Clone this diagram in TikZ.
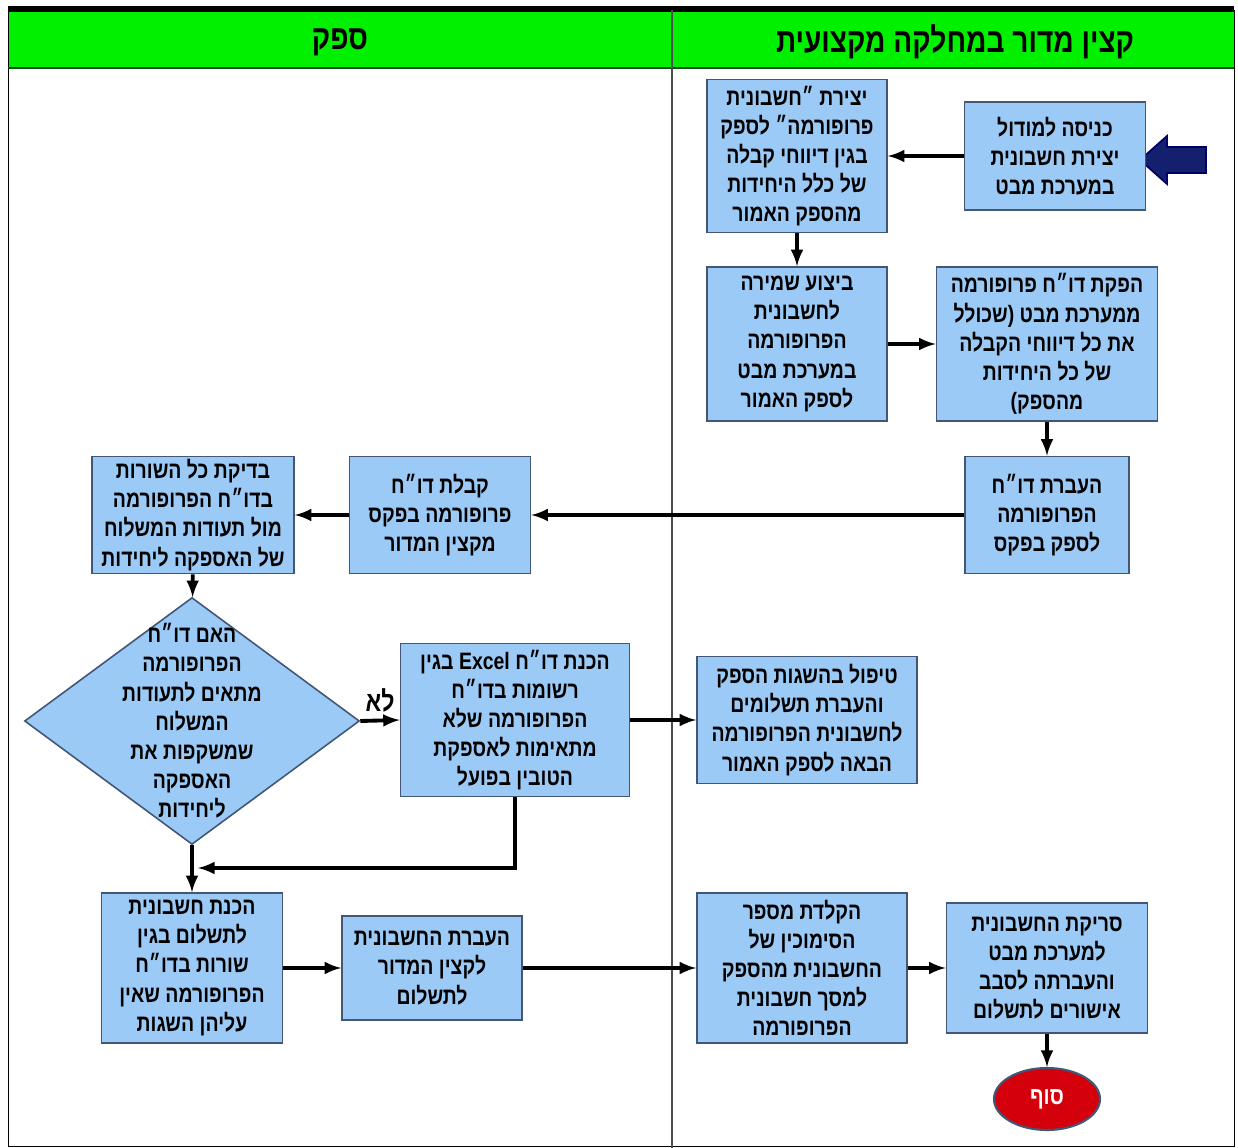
\documentclass[tikz,border=0pt]{standalone}
\usepackage{fontspec}
\usetikzlibrary{shapes.geometric}
\tikzset{>=latex}
\TeXXeTstate=1
\newfontfamily\hebfont[Script=Hebrew,FakeStretch=0.82]{Liberation Sans}
\newcommand{\heb}[1]{\beginR #1\endR}
\definecolor{boxblue}{RGB}{155,202,246}
\definecolor{boxline}{RGB}{66,86,118}
\definecolor{headgreen}{RGB}{0,240,0}
\definecolor{navyarrow}{RGB}{20,32,110}
\definecolor{endred}{RGB}{212,0,12}
\tikzstyle{box}=[draw=boxline,fill=boxblue,line width=0.9pt,align=center,inner sep=1pt,
  font={\hebfont\bfseries\fontsize{13.5}{16.6}\selectfont}]
\tikzstyle{flow}=[->,line width=2.2pt]
\tikzstyle{headtxt}=[font={\hebfont\bfseries\fontsize{19.5}{24}\selectfont}]

\begin{document}
\begin{tikzpicture}[x=0.02cm,y=-0.02cm]

  \useasboundingbox (0,0) rectangle (1238,1148);

  % lanes + header
  \fill[headgreen] (8,10) rectangle (1234,68);
  \draw[thin] (8,10) rectangle (1234,1146);
  \draw[line width=3pt] (8,9) -- (1234,9);
  \draw[line width=1pt,green!30!black] (8,68) -- (1234,68);
  \draw[line width=1.1pt,black!70] (672,10) -- (672,1148);
  \node[headtxt] (supplier) at (340,42) {\heb{ספק}};
  \node[headtxt] (officer) at (955,42) {\heb{קצין מדור במחלקה מקצועית}};

  % start arrow
  \draw[fill=navyarrow,draw=blue!40!black,line width=1pt]
    (1140,160) -- (1167,136) -- (1167,147) -- (1206,147) -- (1206,173)
    -- (1167,173) -- (1167,184) -- cycle;

  % boxes, officer lane
  \node[box,minimum width=3.62cm,minimum height=2.16cm] (entry) at (1055,156)
    {\heb{כניסה למודול}\\\heb{יצירת חשבונית}\\\heb{במערכת מבט}};
  \node[box,minimum width=3.6cm,minimum height=3.06cm] (proforma) at (797,156)
    {\heb{יצירת ״חשבונית}\\\heb{פרופורמה״ לספק}\\\heb{בגין דיווחי קבלה}\\\heb{של כלל היחידות}\\\heb{מהספק האמור}};
  \node[box,minimum width=3.6cm,minimum height=3.08cm] (save) at (797,344)
    {\heb{ביצוע שמירה}\\\heb{לחשבונית}\\\heb{הפרופורמה}\\\heb{במערכת מבט}\\\heb{לספק האמור}};
  \node[box,minimum width=4.42cm,minimum height=3.08cm] (report) at (1047,344)
    {\heb{הפקת דו״ח פרופורמה}\\\heb{ממערכת מבט (שכולל}\\\heb{את כל דיווחי הקבלה}\\\heb{של כל היחידות}\\\heb{מהספק)}};
  \node[box,minimum width=3.28cm,minimum height=2.34cm] (fax) at (1047,515)
    {\heb{העברת דו״ח}\\\heb{הפרופורמה}\\\heb{לספק בפקס}};
  \node[box,minimum width=4.4cm,minimum height=2.54cm] (handle) at (807,720)
    {\heb{טיפול בהשגות הספק}\\\heb{והעברת תשלומים}\\\heb{לחשבונית הפרופורמה}\\\heb{הבאה לספק האמור}};
  \node[box,minimum width=4.2cm,minimum height=3cm] (typing) at (802,968)
    {\heb{הקלדת מספר}\\\heb{הסימוכין של}\\\heb{החשבונית מהספק}\\\heb{למסך חשבונית}\\\heb{הפרופורמה}};
  \node[box,minimum width=4.02cm,minimum height=2.6cm] (scan) at (1047,968)
    {\heb{סריקת החשבונית}\\\heb{למערכת מבט}\\\heb{והעברתה לסבב}\\\heb{אישורים לתשלום}};
  \node[ellipse,draw=boxline,fill=endred,text=white,line width=1.2pt,
    minimum width=2.12cm,minimum height=1.24cm,font={\hebfont\bfseries\fontsize{14}{16}\selectfont}]
    (finish) at (1047,1099) {\heb{סוף}};

  % boxes, supplier lane
  \node[box,minimum width=3.62cm,minimum height=2.34cm] (receive) at (440,515)
    {\heb{קבלת דו״ח}\\\heb{פרופורמה בפקס}\\\heb{מקצין המדור}};
  \node[box,minimum width=4.04cm,minimum height=2.34cm] (check) at (193,515)
    {\heb{בדיקת כל השורות}\\\heb{בדו״ח הפרופורמה}\\\heb{מול תעודות המשלוח}\\\heb{של האספקה ליחידות}};
  \node[box,diamond,minimum width=6.7cm,minimum height=4.94cm,inner xsep=-1.5cm,inner ysep=-1.8cm]
    (decide) at (192,721)
    {\heb{האם דו״ח}\\\heb{הפרופורמה}\\\heb{מתאים לתעודות}\\\heb{המשלוח}\\\heb{שמשקפות את}\\\heb{האספקה}\\\heb{ליחידות}};
  \node[box,minimum width=4.58cm,minimum height=3.06cm] (excel) at (515,720)
    {\heb{הכנת דו״ח Excel בגין}\\\heb{רשומות בדו״ח}\\\heb{הפרופורמה שלא}\\\heb{מתאימות לאספקת}\\\heb{הטובין בפועל}};
  \node[box,minimum width=3.62cm,minimum height=3cm] (invoice) at (192,968)
    {\heb{הכנת חשבונית}\\\heb{לתשלום בגין}\\\heb{שורות בדו״ח}\\\heb{הפרופורמה שאין}\\\heb{עליהן השגות}};
  \node[box,minimum width=3.6cm,minimum height=2.08cm] (transfer) at (432,968)
    {\heb{העברת החשבונית}\\\heb{לקצין המדור}\\\heb{לתשלום}};

  % connectors
  \coordinate (merge) at (198,868);
  \draw[flow] (entry) -- (proforma);
  \draw[flow] (proforma) -- (save);
  \draw[flow] (save) -- (report);
  \draw[flow] (report) -- (fax);
  \draw[flow] (fax) -- (receive);
  \draw[flow] (receive) -- (check);
  \draw[flow] (check) -- (decide);
  \draw[flow] (decide.east) -- node[above,font={\hebfont\bfseries\fontsize{16}{18}\selectfont}] {\heb{לא}} (excel.west);
  \draw[flow] (excel) -- (handle);
  \draw[flow] (excel.south) |- (merge);
  \draw[flow] (decide.south) -- (invoice.north);
  \draw[flow] (invoice) -- (transfer);
  \draw[flow] (transfer) -- (typing);
  \draw[flow] (typing) -- (scan);
  \draw[flow] (scan) -- (finish);

\end{tikzpicture}
\end{document}
